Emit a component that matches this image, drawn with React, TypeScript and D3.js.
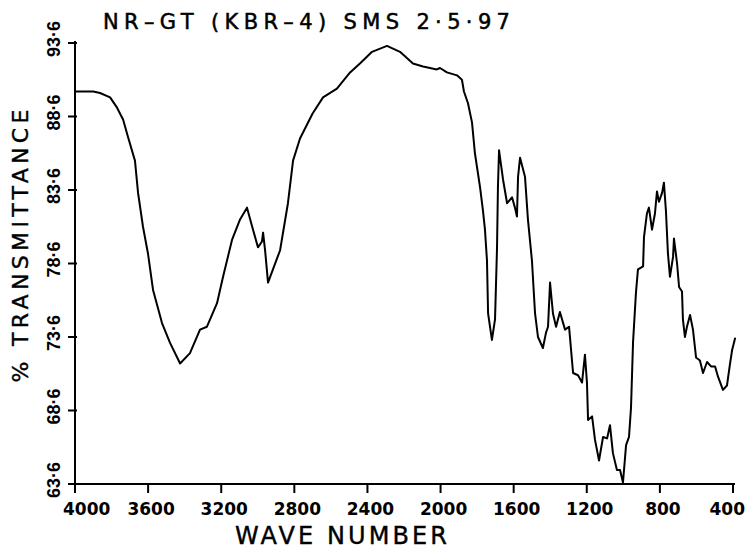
import React from "react";
import * as d3 from "d3";

const TITLE = "NR–GT (KBR–4) SMS 2·5·97";
const X_TITLE = "WAVE NUMBER";
const Y_TITLE = "% TRANSMITTANCE";

const xTicks = [4000, 3600, 3200, 2800, 2400, 2000, 1600, 1200, 800, 400];
const yTicks = [63.6, 68.6, 73.6, 78.6, 83.6, 88.6, 93.6];
const yTickLabels = ["63·6", "68·6", "73·6", "78·6", "83·6", "88·6", "93·6"];

const wavenumbers = [
  4000, 3900, 3863, 3808, 3770, 3737, 3710, 3672, 3655, 3628,
  3601, 3573, 3524, 3480, 3425, 3371, 3316, 3278, 3223, 3190,
  3141, 3097, 3059, 3026, 2999, 2977, 2971, 2960, 2944, 2917,
  2878, 2835, 2807, 2769,
  2700, 2643, 2567, 2495, 2441, 2375, 2293, 2222, 2151, 2096,
  2020, 2003, 1965, 1910, 1883, 1872, 1850, 1828, 1812, 1784,
  1768, 1757, 1746, 1740, 1719, 1702, 1691, 1686, 1680, 1658,
  1636, 1609, 1593, 1582, 1576, 1565, 1538, 1522, 1500, 1483,
  1467, 1440, 1423, 1412, 1401, 1385, 1368, 1347, 1319, 1297,
  1275, 1248, 1226, 1210, 1199, 1193, 1171, 1155, 1133, 1111,
  1089, 1073, 1057, 1035, 1018, 1002, 985, 969, 958, 947,
  931, 920, 892, 887, 871, 860, 843, 827, 816, 805,
  788, 778, 767, 756, 745, 728, 723, 706, 695, 679,
  674, 663, 652, 635, 619, 602, 581, 564, 542, 520,
  498, 482, 455, 433, 416, 405, 389,
];

const transmittance = [
  90.3, 90.3, 90.2, 89.9, 89.2, 88.4, 87.2, 85.6, 83.4, 81.1,
  79.3, 76.8, 74.55, 73.2, 71.8, 72.5, 74.1, 74.3, 75.9, 77.7,
  80.2, 81.6, 82.4, 80.9, 79.7, 80.1, 80.7, 79.5, 77.3, 78.2,
  79.5, 82.7, 85.6, 87.1,
  88.8, 89.9, 90.5, 91.6, 92.2, 93.0, 93.4, 93.0, 92.2, 92.0,
  91.8, 91.9, 91.6, 91.4, 91.1, 90.3, 89.5, 88.2, 86.1, 83.8,
  82.2, 80.9, 78.8, 75.2, 73.4, 74.8, 79.7, 83.8, 86.3, 84.3,
  82.7, 83.1, 82.4, 81.8, 84.5, 85.8, 84.5, 81.6, 78.8, 75.2,
  73.6, 72.85, 73.9, 74.3, 77.3, 75.2, 74.3, 75.3, 74.1, 74.3,
  71.15, 71.0, 70.5, 72.4, 70.5, 67.95, 68.2, 66.6, 65.2, 66.8,
  66.7, 67.6, 65.7, 64.55, 64.55, 63.7, 66.25, 66.8, 68.8, 73.2,
  76.6, 78.2, 78.4, 80.4, 82.0, 82.4, 80.9, 82.0, 83.5, 82.8,
  83.4, 84.1, 82.2, 79.3, 77.7, 79.05, 80.3, 78.6, 77.0, 76.7,
  74.8, 73.6, 74.3, 75.1, 74.1, 72.2, 72.0, 71.15, 71.9, 71.6,
  71.6, 70.9, 70.0, 70.3, 71.8, 72.7, 73.5,
];

export default function App() {
  const W = 748;
  const H = 550;
  const x = d3.scaleLinear().domain([4000, 400]).range([75, 733]);
  const y = d3.scaleLinear().domain([63.6, 93.6]).range([484, 43]);

  const line = d3
    .line<number>()
    .x((_, i) => x(wavenumbers[i]))
    .y((d) => y(d))
    .curve(d3.curveLinear);

  const path = line(transmittance) || "";
  const x0 = x(4000);
  const y0 = y(63.6);
  const xFirst = xTicks[0];
  const xLast = xTicks[xTicks.length - 1];

  return (
    <svg
      width={W}
      height={H}
      viewBox={`0 0 ${W} ${H}`}
      style={{ position: "absolute", left: 0, top: 0, background: "#fff" }}
    >
      <rect x={0} y={0} width={W} height={H} fill="#fff" />
      {/* title */}
      <text
        x={103}
        y={29}
        fontFamily="DejaVu Sans"
        fontSize={21}
        fill="#000"
        stroke="#000"
        strokeWidth={0.5}
        textLength={407}
        lengthAdjust="spacing"
      >
        {TITLE}
      </text>

      {/* axes */}
      <line x1={x0} x2={x0} y1={y(93.6) - 2} y2={y0 + 6} stroke="#000" strokeWidth={2} />
      <line x1={x0 - 3} x2={x(400) + 2} y1={y0} y2={y0} stroke="#000" strokeWidth={2} />

      {yTicks.map((t, i) => (
        <g key={"yt" + t}>
          <line x1={x0 - 7} x2={x0 + 2} y1={y(t)} y2={y(t)} stroke="#000" strokeWidth={2} />
          <text
            transform={`translate(60, ${y(t) - 4}) rotate(-90)`}
            textAnchor="middle"
            fontFamily="Liberation Sans"
            fontWeight="bold"
            fontSize={18}
            fill="#000"
          >
            {yTickLabels[i]}
          </text>
        </g>
      ))}

      {xTicks.map((t) => {
        const anchor = t === xFirst ? "start" : t === xLast ? "end" : "middle";
        const lx = t === xFirst ? x(t) - 12 : t === xLast ? x(t) + 12 : x(t) + 3;
        return (
          <g key={"xt" + t}>
            <line x1={x(t)} x2={x(t)} y1={y0} y2={y0 + 9} stroke="#000" strokeWidth={2} />
            <text
              x={lx}
              y={515}
              textAnchor={anchor}
              fontFamily="DejaVu Sans"
              fontWeight="bold"
              fontSize={17}
              fill="#000"
            >
              {t}
            </text>
          </g>
        );
      })}

      <text
        x={341}
        y={544}
        textAnchor="middle"
        fontFamily="DejaVu Sans"
        fontSize={24}
        fill="#000"
        stroke="#000"
        strokeWidth={0.4}
        textLength={212}
        lengthAdjust="spacing"
      >
        {X_TITLE}
      </text>

      <text
        transform="translate(28, 246) rotate(-90)"
        textAnchor="middle"
        fontFamily="DejaVu Sans"
        fontSize={22}
        fill="#000"
        stroke="#000"
        strokeWidth={0.4}
        textLength={273}
        lengthAdjust="spacing"
      >
        {Y_TITLE}
      </text>

      <path
        d={path}
        fill="none"
        stroke="#000"
        strokeWidth={2}
        strokeLinejoin="round"
        strokeLinecap="round"
      />
    </svg>
  );
}
